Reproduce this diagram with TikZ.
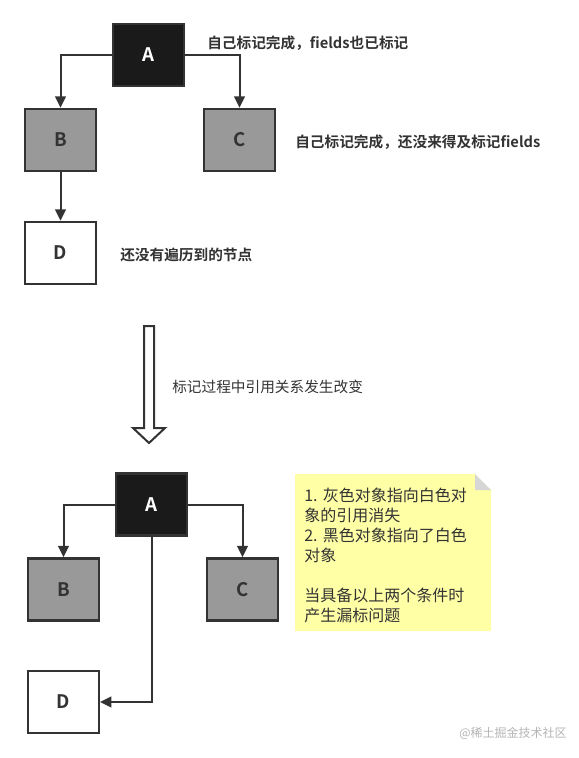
\documentclass[tikz,border=0pt]{standalone}
\usepackage{fontspec}
\newfontfamily\cjk{Noto Sans CJK SC}[BoldFont={Noto Sans CJK SC Bold}]
\usetikzlibrary{arrows.meta, positioning}
\definecolor{LineGrey}{HTML}{333333}
\definecolor{MarkGrey}{HTML}{999999}
\definecolor{MarkBlack}{HTML}{1A1A1A}
\definecolor{NoteYellow}{HTML}{FFFFA6}
\definecolor{FoldGrey}{HTML}{D6D6D6}
\definecolor{WaterGrey}{HTML}{B4B4B4}
\frenchspacing

\begin{document}
\begin{tikzpicture}[
    x=0.75pt, y=-0.75pt,
    every node/.style={font=\cjk},
    obj/.style={draw=LineGrey, line width=1.8pt, minimum width=53pt, minimum height=46.5pt,
                inner sep=0pt, text=LineGrey, font=\cjk\bfseries\fontsize{14}{16}\selectfont},
    blackobj/.style={obj, fill=MarkBlack, text=white},
    greyobj/.style={obj, fill=MarkGrey},
    whiteobj/.style={obj, fill=white},
    ref/.style={draw=LineGrey, line width=1.5pt, -{Triangle[length=8.5pt, width=8pt]}},
    remark/.style={anchor=west, inner sep=0pt, text=LineGrey, font=\cjk\bfseries\fontsize{11}{13}\selectfont}
]
\useasboundingbox (0,0) rectangle (579,758);

\node[blackobj] (a1) at (148.5,55) {A};
\node[greyobj]  (b1) at (60.5,140) {B};
\node[greyobj]  (c1) at (239.5,140) {C};
\node[whiteobj] (d1) at (60.5,253) {D};
\draw[ref] (a1.west) -| (b1.north);
\draw[ref] (a1.east) -| (c1.north);
\draw[ref] (b1) -- (d1);
\node[remark] (t1) at (207,43) {自己标记完成，fields也已标记};
\node[remark] (t2) at (295,142) {自己标记完成，还没来得及标记fields};
\node[remark] (t3) at (120,255) {还没有遍历到的节点};

\draw[LineGrey, line width=1.5pt, fill=white, line join=miter]
    (144,326) -- (154,326) -- (154,428) -- (165,428) -- (149,443) -- (133,428) -- (144,428) -- cycle;
\node[remark, font=\cjk\fontsize{11}{13}\selectfont] (t4) at (172,387) {标记过程中引用关系发生改变};

\node[blackobj] (a2) at (151.5,504.5) {A};
\node[greyobj]  (b2) at (63.5,589.5) {B};
\node[greyobj]  (c2) at (242.5,589.5) {C};
\node[whiteobj] (d2) at (63.5,702) {D};
\draw[ref] (a2.west) -| (b2.north);
\draw[ref] (a2.east) -| (c2.north);
\draw[ref] (a2.south) |- (d2.east);

\fill[NoteYellow] (295,474) -- (475,474) -- (491,490) -- (491,631) -- (295,631) -- cycle;
\fill[FoldGrey] (475,474) -- (491,490) -- (475,490) -- cycle;
\node[anchor=north west, inner sep=0pt, text width=135pt, align=left, text=LineGrey,
      font=\cjk\fontsize{12}{15}\selectfont] (note) at (304,488)
    {1. 灰色对象指向白色对\\象的引用消失\\2. 黑色对象指向了白色\\对象\\[15pt]当具备以上两个条件时\\产生漏标问题};

\node[anchor=west, inner sep=0pt, text=WaterGrey, font=\cjk\fontsize{9}{11}\selectfont] (mark) at (459,733) {@稀土掘金技术社区};
\end{tikzpicture}
\end{document}
